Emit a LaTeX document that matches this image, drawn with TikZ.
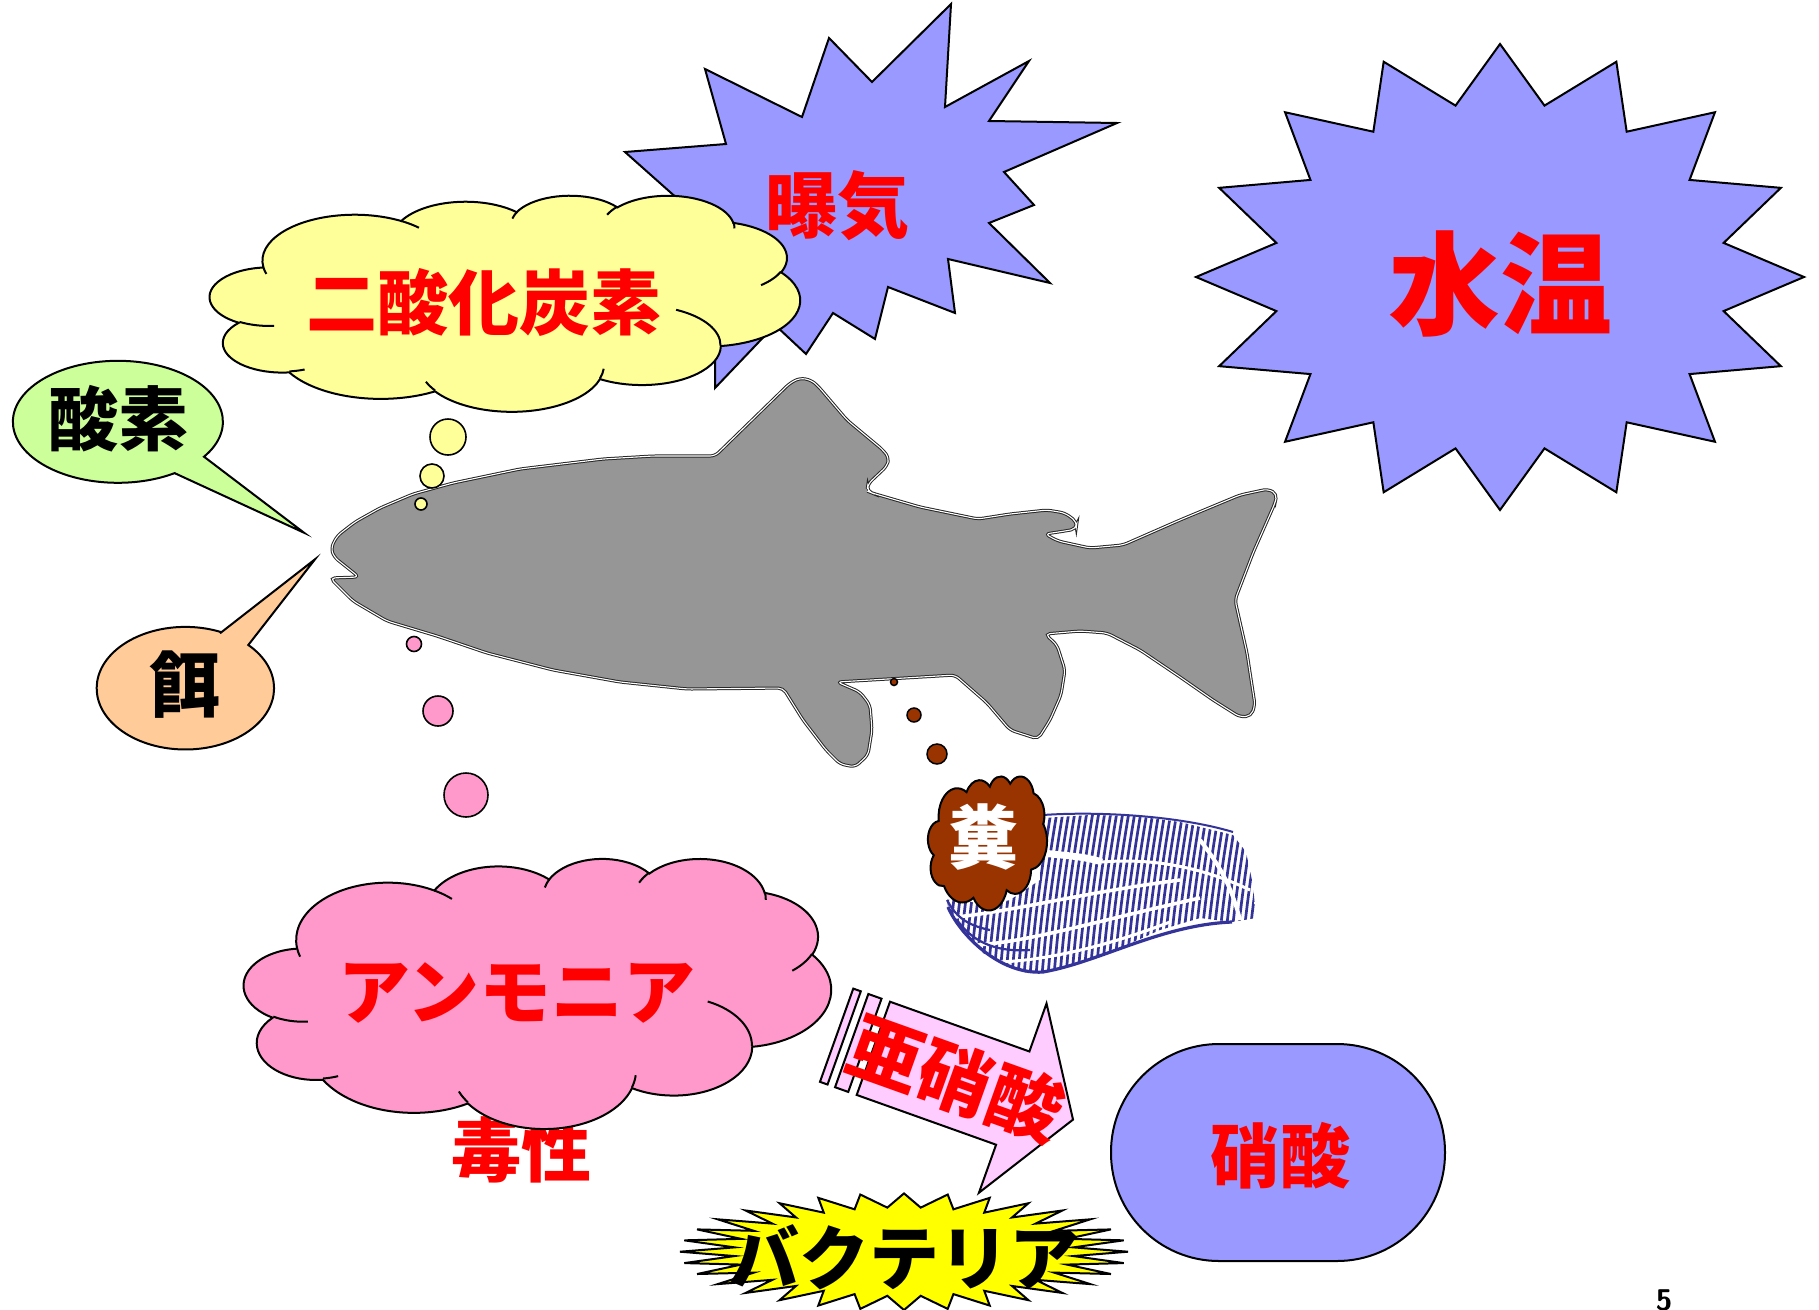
\documentclass[tikz,border=0pt]{standalone}
\usepackage{fontspec}
\newfontfamily\jp{Noto Sans CJK JP}
\definecolor{starblue}{HTML}{9999FF}
\definecolor{cloudyellow}{HTML}{FFFF99}
\definecolor{cloudpink}{HTML}{FF99CC}
\definecolor{leafgreen}{HTML}{CCFF99}
\definecolor{peach}{HTML}{FFCC99}
\definecolor{lilac}{HTML}{FFCCFF}
\definecolor{burstyellow}{HTML}{FFFF00}
\definecolor{dungbrown}{HTML}{993300}
\definecolor{inkblue}{HTML}{333399}
\definecolor{fishgray}{HTML}{969696}
\definecolor{alarmred}{HTML}{FF0000}
\newcommand\sz[1]{\fontsize{#1}{#1}\selectfont}
% cloud outline in a 432 x 432 box
\newcommand\cloudoutline{(39,143.7)
 arc[start angle=-187.74,end angle=-59.64,x radius=67.53,y radius=91.90]
 arc[start angle=-152.02,end angle=-45.43,x radius=53.33,y radius=72.67]
 arc[start angle=-153.48,end angle=-37.32,x radius=43.65,y radius=59.45]
 arc[start angle=-139.70,end angle=-10.21,x radius=48.57,y radius=65.95]
 arc[start angle=-74.77,end angle=23.21,x radius=53.33,y radius=72.73]
 arc[start angle=-37.53,end angle=81.86,x radius=67.75,y radius=92.20]
 arc[start angle=0.46,end angle=121.98,x radius=57.85,y radius=78.67]
 arc[start angle=16.84,end angle=146.24,x radius=67.52,y radius=92.15]
 arc[start angle=58.98,end angle=150.20,x radius=77.20,y radius=105.43]
 arc[start angle=-276.69,end angle=-136.88,x radius=43.60,y radius=59.18]
 arc[start angle=-239.64,end angle=-95.89,x radius=43.45,y radius=59.45]
 -- cycle}
% inner arcs where the puffs overlap
\newcommand\cloudhooks{
 (46.93,261.77) arc[start angle=85.55,end angle=120.36,x radius=43.45,y radius=59.45]
 (69.28,348.99) arc[start angle=68.24,end angle=83.31,x radius=43.60,y radius=59.18]
 (164.78,390.90) arc[start angle=146.24,end angle=158.47,x radius=67.52,y radius=92.15]
 (288.27,347.51) arc[start angle=4.74,end angle=16.84,x radius=67.52,y radius=92.15]
 (341.29,229.54) arc[start angle=-64.03,end angle=0.46,x radius=57.85,y radius=78.67]
 (417.98,153.54) arc[start angle=23.21,end angle=49.63,x radius=53.33,y radius=72.73]
 (383.24,54.26) arc[start angle=-10.21,end angle=0.82,x radius=48.57,y radius=65.95]
 (290.78,39.52) arc[start angle=-156.28,end angle=-139.70,x radius=48.57,y radius=65.95]
 (221.41,47.20) arc[start angle=-167.73,end angle=-153.48,x radius=43.65,y radius=59.45]
 (140.00,51.92) arc[start angle=-59.64,end angle=-45.71,x radius=67.53,y radius=91.90]
 (41.27,157.89) arc[start angle=163.19,end angle=172.26,x radius=67.53,y radius=91.90]}
\tikzset{
 outline/.style={draw=black, line width=2pt, line join=miter},
 hook/.style={draw=black, line width=2pt},
 txt/.style={inner sep=0pt},
 redtxt/.style={inner sep=0pt, text=alarmred},
 engrave/.style={inkblue, line width=2.7pt, line cap=round},
}
\begin{document}
\begin{tikzpicture}[x=1pt,y=-1pt]
\useasboundingbox (0,0) rectangle (1819,1309);

% aeration burst
\draw[outline, fill=starblue] (951,4) -- (945,107) -- (1029,61) -- (989,121) -- (1117,123)
 -- (1004,172) -- (1034,205) -- (989,223) -- (1050,283) -- (948,259) -- (955,313)
 -- (888,287) -- (875,339) -- (833,313) -- (806,354) -- (775,325) -- (715,388)
 -- (715,232) -- (625,152) -- (726,144) -- (705,69) -- (802,117) -- (829,38)
 -- (872,82) -- cycle;
\node[redtxt, font=\jp\bfseries\sz{72}] (aer) at (837,206) {曝気};

% carbon dioxide thought cloud
\begin{scope}[shift={(210,195)}, x=1.3657pt, y=-0.5pt]
 \draw[outline, fill=cloudyellow] \cloudoutline;
 \draw[hook] \cloudhooks;
\end{scope}
\node[redtxt, font=\jp\bfseries\sz{71}] (co2) at (484,302) {二酸化炭素};

% water temperature burst
\draw[outline, fill=starblue] plot[samples at={0,...,31}, variable=\k]
 ({1500+304*(0.875+0.125*cos(180*\k))*cos(11.25*\k)},
  {277-233*(0.875+0.125*cos(180*\k))*sin(11.25*\k)}) -- cycle;
\node[redtxt, font=\jp\bfseries\sz{112}] (temp) at (1500,284) {水温};

% fish
\draw[fill=fishgray, draw=black!85, line width=1pt, double=white, double distance=1.1pt,
 rounded corners=5pt]
 (359,577) -- (334,557) -- (331,548) -- (337,536) -- (355,522) -- (380,508) -- (413,494)
 -- (453,483) -- (520,469) -- (603,459) -- (653,456) -- (715,456) -- (790,383) -- (800,378)
 -- (811,380) -- (818,386) -- (847,420) -- (883,450) -- (889,458) -- (887,466) -- (868,484)
 -- (867,491) -- (872,493) -- (920,507) -- (978,519) -- (1010,514) -- (1047,510) -- (1065,513)
 -- (1077,522) -- (1076,529) -- (1065,531) -- (1045,534) -- (1058,541) -- (1090,548)
 -- (1123,545) -- (1180,520) -- (1240,495) -- (1268,489) -- (1277,494) -- (1275,503)
 -- (1253,553) -- (1235,600) -- (1247,653) -- (1255,705) -- (1251,716) -- (1240,717)
 -- (1213,700) -- (1180,677) -- (1140,650) -- (1107,633) -- (1080,631) -- (1045,634)
 -- (1057,645) -- (1065,670) -- (1061,695) -- (1050,720) -- (1038,739) -- (1010,730)
 -- (987,703) -- (955,675) -- (837,682) -- (860,692) -- (870,705) -- (872,730) -- (868,755)
 -- (855,767) -- (840,764) -- (826,750) -- (803,720) -- (783,688) -- (687,689) -- (620,682)
 -- (553,670) -- (487,653) -- (437,636) -- (387,621) -- (353,601) -- (330,578) -- cycle;

% bubbles rising to the clouds
\draw[outline, line width=1.6pt, fill=cloudyellow] (448,437) circle[radius=18];
\draw[outline, line width=1.6pt, fill=cloudyellow] (432,476) circle[radius=12];
\draw[outline, line width=1.6pt, fill=cloudyellow] (421,504) circle[radius=6];
\draw[outline, line width=1.6pt, fill=cloudpink] (414,644) circle[radius=7.5];
\draw[outline, line width=1.6pt, fill=cloudpink] (438,711) circle[radius=15];
\draw[outline, line width=1.6pt, fill=cloudpink] (466,795) circle[radius=22];

% oxygen speech bubble
\draw[outline, fill=leafgreen] (175,473.3) -- (304,532.7) -- (204,456.7)
 arc[start angle=34.9, end angle=-302.8, x radius=105, y radius=61] -- cycle;
\node[txt, font=\jp\bfseries\sz{70}] (oxy) at (118,419) {酸素};

% feed speech bubble
\draw[outline, fill=peach] (220,633.3) -- (315,559.3) -- (248.3,645)
 arc[start angle=-44.8, end angle=293.8, x radius=88.7, y radius=61.3] -- cycle;
\node[txt, font=\jp\bfseries\sz{71}] (feed) at (185,685) {餌};

% ammonia cloud
\node[redtxt, font=\jp\bfseries\sz{70}] (tox) at (521,1150) {毒性};
\begin{scope}[shift={(244,858)}, x=1.3588pt, y=-0.625pt]
 \draw[outline, fill=cloudpink] \cloudoutline;
 \draw[hook] \cloudhooks;
\end{scope}
\node[redtxt, font=\jp\bfseries\sz{72}] (nh3) at (517,993) {アンモニア};

% engraved hand: thumb band, palm band and curled fingers
\begin{scope}
 \clip (1040,822) -- (1043,818) -- (1090,815) -- (1135,816) -- (1180,822) -- (1233,835)
  -- (1246,852) -- (1253,885) -- (1256,918) -- (1232,922) -- (1200,918) -- (1160,930)
  -- (1120,948) -- (1087,960) -- (1043,972) -- (1027,973) -- (1008,966) -- (983,953)
  -- (963,933) -- (955,922) -- (948,907) -- (947,900) -- (958,898) -- (985,906)
  -- (1010,900) -- (1040,880) -- cycle;
 \foreach \xx in {915,921,...,1280}
  \draw[engrave] (\xx,990) .. controls (\xx+4,930) and (\xx+12,870) .. (\xx+24,800);
 % highlights separating the fingers
 \draw[white, line width=7pt] (1038,852) .. controls (1060,856) and (1080,855) .. (1102,862);
 \draw[white, line width=3pt] (1102,862) .. controls (1150,858) and (1200,866) .. (1250,890);
 \draw[white, line width=3.5pt] (955,917) .. controls (1010,912) and (1080,893) .. (1180,880);
 \draw[white, line width=3.5pt] (975,945) .. controls (1030,942) and (1100,920) .. (1200,898);
 \draw[white, line width=3pt] (1000,962) .. controls (1050,960) and (1110,945) .. (1170,922);
 \draw[white, line width=4pt] (1200,840) .. controls (1215,860) and (1230,880) .. (1240,920);
\end{scope}
\draw[inkblue, line width=2pt] (1043,815) .. controls (1100,811) and (1180,816) .. (1233,832);
\draw[inkblue, line width=3.2pt] (948,907) .. controls (960,935) and (1000,975) .. (1043,972)
 .. controls (1100,962) and (1160,925) .. (1232,922);
\draw[inkblue, line width=2.2pt] (947,900) .. controls (955,915) and (965,925) .. (990,930);
\draw[inkblue, line width=2.2pt] (957,920) .. controls (975,945) and (1000,952) .. (1030,950);

% droppings
\draw[outline, line width=1.5pt, fill=dungbrown] (894,682) circle[radius=3.5];
\draw[outline, line width=1.5pt, fill=dungbrown] (914,715) circle[radius=7];
\draw[outline, line width=1.5pt, fill=dungbrown] (937,754) circle[radius=10];
\begin{scope}[shift={(928,776)}, x=0.2755pt, y=-0.3102pt]
 \draw[outline, fill=dungbrown] \cloudoutline;
\end{scope}
\node[txt, text=white, font=\jp\bfseries\sz{70}] (dung) at (983,837) {糞};

% nitrite striped arrow
\begin{scope}[shift={(890,1001.7)}, rotate=-19.65]
 \draw[outline, fill=lilac] (-39,0) rectangle (-31,99);
 \draw[outline, fill=lilac] (-23,0) rectangle (-9,99);
 \draw[outline, fill=lilac] (0,0) -- (148,0) -- (148,-51) -- (212,49.5) -- (148,150)
  -- (148,99) -- (0,99) -- cycle;
 \node[redtxt, transform shape, font=\jp\bfseries\sz{74}] (no2) at (88,50) {亜硝酸};
\end{scope}

% bacteria burst
\draw[outline, fill=burstyellow] plot[samples at={0,...,63}, variable=\k]
 ({904+224*(0.88+0.12*cos(180*\k))*cos(5.625*\k)},
  {1251.7-58.3*(0.88+0.12*cos(180*\k))*sin(5.625*\k)}) -- cycle;
\node[txt, font=\jp\bfseries\sz{70}] (bact) at (904,1257) {バクテリア};

% nitrate
\draw[outline, fill=starblue, rounded corners=108pt] (1111,1044) rectangle (1445,1261);
\node[redtxt, font=\jp\bfseries\sz{70}] (no3) at (1280,1156) {硝酸};

% page number
\node[inner sep=0pt, anchor=base, font=\sffamily\bfseries\sz{30}] (pg) at (1664,1310) {5};
\end{tikzpicture}
\end{document}
